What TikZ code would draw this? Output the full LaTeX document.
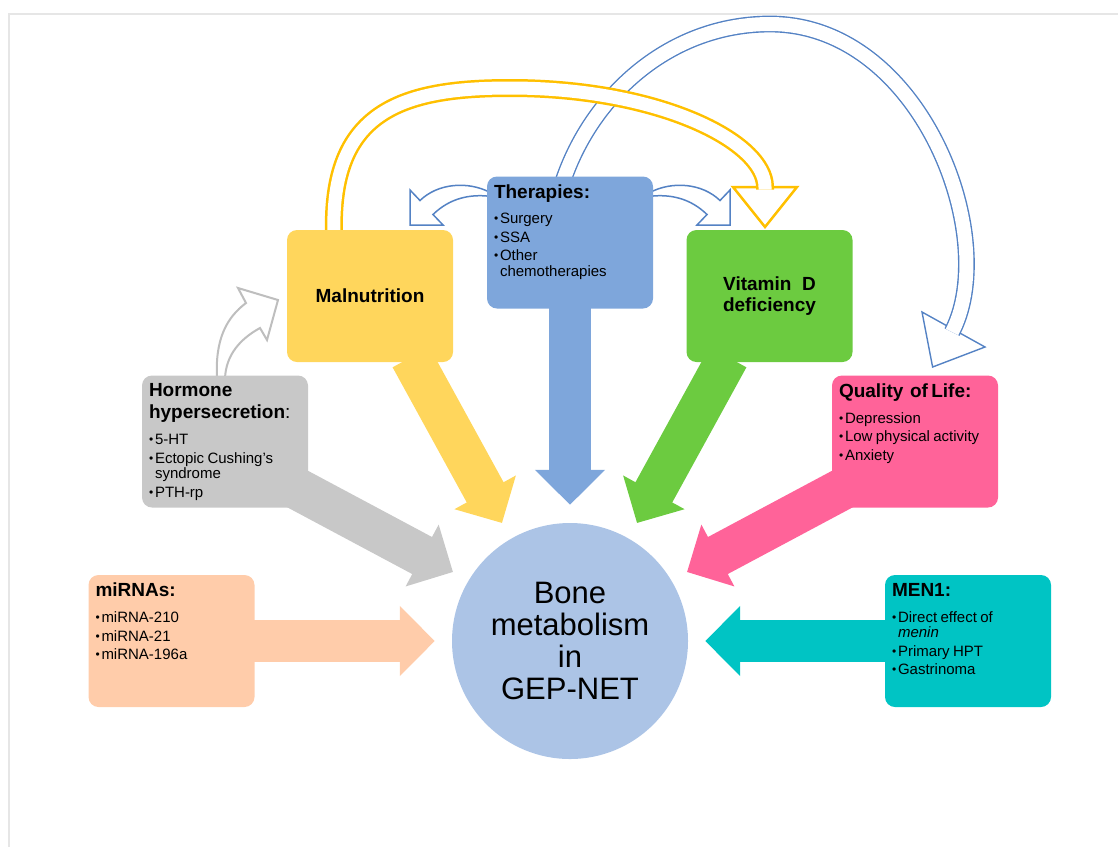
\documentclass[tikz,border=0pt]{standalone}
\usepackage{fontspec}
\setmainfont{Liberation Sans}
\usetikzlibrary{arrows.meta,calc,backgrounds}
\setlength\parindent{0pt}
\setlength\parskip{0pt}

% box colours
\definecolor{malncol}{RGB}{255,214,92}
\definecolor{thercol}{RGB}{126,166,219}
\definecolor{vitdcol}{RGB}{108,203,64}
\definecolor{hormcol}{RGB}{200,200,200}
\definecolor{qolcol}{RGB}{255,99,153}
\definecolor{mirnacol}{RGB}{255,204,170}
\definecolor{men1col}{RGB}{0,196,196}
\definecolor{bonecol}{RGB}{172,196,230}
% outline colours
\definecolor{arcyellow}{RGB}{255,192,0}
\definecolor{arcblue}{RGB}{84,130,196}
\definecolor{arcgray}{RGB}{190,190,190}
\definecolor{framegray}{RGB}{230,230,230}

\newcommand\ttlfont{\fontsize{19}{22}\selectfont\bfseries}
\newcommand\itmfont{\fontsize{15}{18.5}\selectfont}
\newcommand\bul{\makebox[6pt][l]{\raisebox{1pt}{\fontsize{12}{12}\selectfont\textbullet}}}
\newcommand\bulind{\hspace*{6pt}}

\tikzset{
  box/.style={rounded corners=10pt, minimum width=166pt, minimum height=132pt, inner sep=0pt},
  boxtext/.style={anchor=north west, inner sep=0pt, align=left, text width=158pt},
  fatarrow/.style={line width=42pt, -{Triangle[length=35pt,width=68pt]}},
  hollow/.style={fill=white, line join=miter},
}

\begin{document}
\begin{tikzpicture}[x=1pt,y=-1pt]
\useasboundingbox (0,0) rectangle (1118,847);
\draw[framegray, line width=2pt] (9,847) -- (9,14) -- (1118,14);

% Boxes
\node[box, fill=malncol, font=\ttlfont] (maln) at (370,296) {Malnutrition};
\node[box, fill=thercol] (ther) at (570,242.5) {};
\node[box, fill=vitdcol, align=center, font=\fontsize{19}{20.5}\selectfont\bfseries] (vitd) at (769.5,296) {Vitamin~~D\\deficiency};
\node[box, fill=hormcol] (horm) at (225,441.5) {};
\node[box, fill=qolcol] (qol) at (915,441.5) {};
\node[box, fill=mirnacol] (mirna) at (171.5,641) {};
\node[box, fill=men1col] (men1) at (968,641) {};
\node[circle, fill=bonecol, minimum size=236pt, inner sep=0pt, align=center, font=\fontsize{31}{32}\selectfont] (bone) at (570,641) {Bone\\metabolism\\in\\GEP-NET};

% Box texts
\node[boxtext] (thertxt) at ($(ther.north west)+(7,8)$) {{\ttlfont Therapies:\par}\vspace{7pt}\itmfont
  \bul Surgery\par \bul SSA\par \bul Other\par\vspace{-3pt}\bulind chemotherapies\par};
\node[boxtext] (hormtxt) at ($(horm.north west)+(7,8)$) {{\ttlfont Hormone\par hypersecretion{\mdseries:}\par}\vspace{7.5pt}\itmfont
  \bul 5-HT\par \bul Ectopic Cushing’s\par\vspace{-3pt}\bulind syndrome\par \bul PTH-rp\par};
\node[boxtext] (qoltxt) at ($(qol.north west)+(7,8)$) {{\ttlfont Quality~~of Life:\par}\vspace{7.5pt}\itmfont
  \bul Depression\par \bul Low physical activity\par \bul Anxiety\par};
\node[boxtext] (mirnatxt) at ($(mirna.north west)+(7,8)$) {{\ttlfont miRNAs:\par}\vspace{7.5pt}\itmfont
  \bul miRNA-210\par \bul miRNA-21\par \bul miRNA-196a\par};
\node[boxtext] (men1txt) at ($(men1.north west)+(7,8)$) {{\ttlfont MEN1:\par}\vspace{7.5pt}\itmfont
  \bul Direct effect of\par\vspace{-3pt}\bulind\textit{menin}\par \bul Primary HPT\par \bul Gastrinoma\par};

\begin{scope}[on background layer]
  % Block arrows into the circle
  \draw[fatarrow, malncol] ($(maln.south)+(41,-5)$) -- ($(bone)+(-68,-118)$);
  \draw[fatarrow, thercol] ($(ther.south)+(0,-3)$) -- ($(bone.north)+(0,-18)$);
  \draw[fatarrow, vitdcol] ($(vitd.south)+(-41.5,-5)$) -- ($(bone)+(67,-118)$);
  \draw[fatarrow, hormcol] ($(horm.south east)+(-14,-20.5)$) -- ($(bone)+(-117,-69)$);
  \draw[fatarrow, qolcol] ($(qol.south west)+(14,-20.5)$) -- ($(bone)+(117,-69)$);
  \draw[fatarrow, mirnacol] ($(mirna.east)+(-5,0)$) -- ($(bone.west)+(-17,0)$);
  \draw[fatarrow, men1col] ($(men1.west)+(5,0)$) -- ($(bone.east)+(17,0)$);

  % Big blue arc: therapies -> quality of life
  \draw[arcblue, line width=1.4pt, hollow] (922,312) -- (932.6,367) -- (985,347) -- cycle;
  \draw[arcblue, line width=1.4pt, double=white, double distance=14pt]
    ($(ther.north)+(-7,5)$) .. controls (592,95) and (670,24) .. (770,24)
    .. controls (920,24) and (1000,235) .. (953,330) -- ++(-1,2);

  % Big yellow arc: malnutrition -> vitamin D
  \draw[arcyellow, line width=2.5pt, hollow] (733,187) -- (765,227) -- (797,187) -- cycle;
  \draw[arcyellow, line width=2.5pt, double=white, double distance=13pt]
    ($(maln.north)+(-36,5)$) .. controls (330,112) and (400,88) .. (510,88)
    .. controls (660,88) and (765,142) .. (765,187) -- (765,189.5);

  % Small curved arrows
  \draw[arcgray, line width=2pt, hollow] ($(horm.north)+(-8,3)$) .. controls (215,340) and (226,318) .. (246,303)
    -- (238,288) -- (278,300) -- (267,340) -- (260,328)
    .. controls (240,339) and (226,355) .. ($(horm.north)+(0,3)$) -- cycle;
  \draw[arcblue, line width=1.5pt, hollow] ($(ther.north west)+(3,16)$) .. controls (468,181) and (438,183) .. (420,200.5)
    -- (410,190) -- (410,225) -- (443,225) -- (433,214.5)
    .. controls (450,198) and (470,194) .. ($(ther.north west)+(3,20)$) -- cycle;
  \draw[arcblue, line width=1.5pt, hollow] ($(ther.north east)+(-3,16)$) .. controls (672,181) and (702,183) .. (720,200.5)
    -- (730,190) -- (730,225) -- (697,225) -- (707,214.5)
    .. controls (690,198) and (670,194) .. ($(ther.north east)+(-3,20)$) -- cycle;
\end{scope}
\end{tikzpicture}
\end{document}
